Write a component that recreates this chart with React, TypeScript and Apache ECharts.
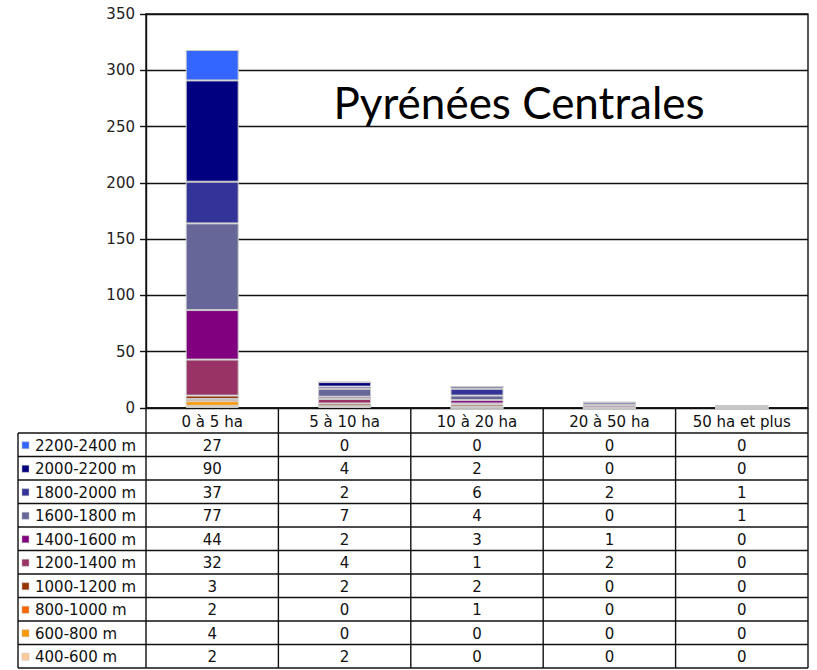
import React, { useEffect, useRef } from "react";
import * as echarts from "echarts";

const categories = ["0 à 5 ha", "5 à 10 ha", "10 à 20 ha", "20 à 50 ha", "50 ha et plus"];
const altitudeBands = [
  "2200-2400 m",
  "2000-2200 m",
  "1800-2000 m",
  "1600-1800 m",
  "1400-1600 m",
  "1200-1400 m",
  "1000-1200 m",
  "800-1000 m",
  "600-800 m",
  "400-600 m",
];
const bandColors = [
  "#3366FF",
  "#000080",
  "#333399",
  "#666699",
  "#800080",
  "#993366",
  "#993300",
  "#FF6600",
  "#FF9900",
  "#FFCC99",
];
const v2200_2400 = [27, 0, 0, 0, 0];
const v2000_2200 = [90, 4, 2, 0, 0];
const v1800_2000 = [37, 2, 6, 2, 1];
const v1600_1800 = [77, 7, 4, 0, 1];
const v1400_1600 = [44, 2, 3, 1, 0];
const v1200_1400 = [32, 4, 1, 2, 0];
const v1000_1200 = [3, 2, 2, 0, 0];
const v800_1000 = [2, 0, 1, 0, 0];
const v600_800 = [4, 0, 0, 0, 0];
const v400_600 = [2, 2, 0, 0, 0];
const bandValues = [
  v2200_2400,
  v2000_2200,
  v1800_2000,
  v1600_1800,
  v1400_1600,
  v1200_1400,
  v1000_1200,
  v800_1000,
  v600_800,
  v400_600,
];
const yTicks = { min: 0, max: 350, interval: 50 };
const title = "Pyrénées Centrales";

const W = 817;
const H = 670;
const gridLeft = 146;
const gridRight = 808;
const gridTop = 14;
const axisY = 408;
const headerBottom = 433;
const rowH = 23.5;
const tableLeft = 18;
const FONT = "DejaVu Sans";
const TEXT_FONT = `15px "${FONT}"`;

export default function App() {
  const ref = useRef<HTMLDivElement>(null);
  useEffect(() => {
    document.body.style.margin = "0";
    const chart = echarts.init(ref.current!, null, { renderer: "svg" });
    const colW = (gridRight - gridLeft) / categories.length;
    const tableBottom = headerBottom + rowH * altitudeBands.length;
    const lineStyle = { stroke: "#111", lineWidth: 1.4 };
    const graphics: any[] = [];
    graphics.push({ type: "line", shape: { x1: gridLeft, y1: axisY, x2: gridRight, y2: axisY }, style: lineStyle });
    for (let i = 0; i <= altitudeBands.length; i++) {
      const y = headerBottom + rowH * i;
      graphics.push({ type: "line", shape: { x1: tableLeft, y1: y, x2: gridRight, y2: y }, style: lineStyle });
    }
    graphics.push({ type: "line", shape: { x1: tableLeft, y1: headerBottom, x2: tableLeft, y2: tableBottom }, style: lineStyle });
    for (let j = 0; j <= categories.length; j++) {
      const x = gridLeft + colW * j;
      graphics.push({ type: "line", shape: { x1: x, y1: axisY, x2: x, y2: tableBottom }, style: lineStyle });
    }
    categories.forEach((c, j) => {
      graphics.push({
        type: "text",
        x: gridLeft + colW * (j + 0.5),
        y: (axisY + headerBottom) / 2 + 1,
        style: { text: c, fill: "#111", font: TEXT_FONT, align: "center", verticalAlign: "middle" },
      });
    });
    altitudeBands.forEach((b, i) => {
      const cy = headerBottom + rowH * (i + 0.5) + 1;
      graphics.push({
        type: "rect",
        shape: { x: 22, y: cy - 4, width: 7, height: 7 },
        style: { fill: bandColors[i], stroke: "#bbb", lineWidth: 0.5 },
      });
      graphics.push({
        type: "text",
        x: 35,
        y: cy,
        style: { text: b, fill: "#111", font: TEXT_FONT, align: "left", verticalAlign: "middle" },
      });
      bandValues[i].forEach((v, j) => {
        graphics.push({
          type: "text",
          x: gridLeft + colW * (j + 0.5),
          y: cy,
          style: { text: String(v), fill: "#111", font: TEXT_FONT, align: "center", verticalAlign: "middle" },
        });
      });
    });
    graphics.push({
      type: "text",
      x: 519,
      y: 102,
      style: { text: title, fill: "#000", font: `44px "Lato"`, align: "center", verticalAlign: "middle" },
    });

    const series = altitudeBands
      .map((b, i) => ({
        name: b,
        type: "bar",
        stack: "total",
        barWidth: "40%",
        data: bandValues[i],
        itemStyle: { color: bandColors[i], borderColor: "#c8c8c8", borderWidth: 1 },
      }))
      .reverse();

    chart.setOption({
      animation: false,
      backgroundColor: "#fff",
      grid: {
        left: gridLeft,
        right: W - gridRight,
        top: gridTop,
        bottom: H - axisY,
        show: true,
        borderColor: "#111",
        borderWidth: 1.4,
      },
      xAxis: {
        type: "category",
        data: categories,
        axisLine: { show: false },
        axisTick: { show: false },
        axisLabel: { show: false },
      },
      yAxis: {
        type: "value",
        min: yTicks.min,
        max: yTicks.max,
        interval: yTicks.interval,
        axisLine: { show: true, lineStyle: { color: "#111", width: 1.4 } },
        axisTick: { show: true, length: 6, lineStyle: { color: "#111", width: 1.4 } },
        axisLabel: { color: "#222", fontFamily: FONT, fontSize: 15, margin: 11 },
        splitLine: { show: true, lineStyle: { color: "#111", width: 1.4 } },
      },
      series,
      graphic: graphics,
    });
    return () => chart.dispose();
  }, []);
  return <div ref={ref} style={{ width: W, height: H }} />;
}
